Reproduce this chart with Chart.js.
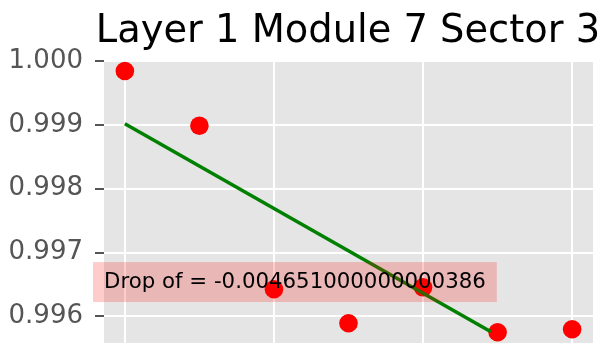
<!DOCTYPE html>
<html>
<head>
<meta charset="utf-8">
<script src="https://cdn.jsdelivr.net/npm/chart.js@4.4.1/dist/chart.umd.min.js"></script>
<style>
  html, body { margin: 0; padding: 0; background: #ffffff; }
  #wrap { width: 599px; height: 346px; }
</style>
</head>
<body>
<div id="wrap"><canvas id="c" width="599" height="346"></canvas></div>
<script>
// ---- data ----
const titleText = "Layer 1 Module 7 Sector 3";
const pointX = [0, 1, 2, 3, 4, 5, 6];
const pointY = [0.999843, 0.998987, 0.996426, 0.995894, 0.996457, 0.995753, 0.995800];
const fitX = [0, 4.91];
const fitY = [0.999019, 0.995762];
const yTicks = [0.996, 0.997, 0.998, 0.999, 1.000];
const annotationText = "Drop of = -0.004651000000000386";
const annotationX = [-0.28];
const annotationY = [0.99645];

const FONT = "'DejaVu Sans', sans-serif";

const bgPlugin = {
  id: 'bg',
  beforeDraw(chart) {
    const { ctx, chartArea: a } = chart;
    ctx.save();
    ctx.fillStyle = '#E5E5E5';
    ctx.fillRect(a.left, a.top, a.right - a.left, a.bottom - a.top);
    ctx.restore();
  }
};

const titlePlugin = {
  id: 'mtitle',
  afterDraw(chart) {
    const { ctx, chartArea: a } = chart;
    ctx.save();
    ctx.font = "38.4px " + FONT;
    ctx.fillStyle = '#000000';
    ctx.textAlign = 'center';
    ctx.textBaseline = 'alphabetic';
    ctx.fillText(titleText, (a.left + a.right) / 2 - 0.5, a.top - 18);
    ctx.restore();
  }
};

const annPlugin = {
  id: 'ann',
  afterDraw(chart) {
    const { ctx } = chart;
    const xs = chart.scales.x, ys = chart.scales.y;
    const px = xs.getPixelForValue(annotationX[0]);
    const py = ys.getPixelForValue(annotationY[0]);
    ctx.save();
    ctx.font = "21.3px " + FONT;
    const w = ctx.measureText(annotationText).width;
    ctx.fillStyle = 'rgba(255,0,0,0.2)';
    ctx.fillRect(px - 11, py - 25.7, w + 22, 40);
    ctx.fillStyle = '#000000';
    ctx.textBaseline = 'alphabetic';
    ctx.textAlign = 'left';
    ctx.fillText(annotationText, px, py);
    ctx.restore();
  }
};

new Chart(document.getElementById('c'), {
  type: 'scatter',
  data: {
    datasets: [
      {
        type: 'line',
        data: fitX.map((x, i) => ({ x: x, y: fitY[i] })),
        borderColor: '#008000',
        borderWidth: 3.5,
        pointRadius: 0,
        fill: false,
        order: 0
      },
      {
        type: 'scatter',
        data: pointX.map((x, i) => ({ x: x, y: pointY[i] })),
        backgroundColor: '#FF0000',
        borderWidth: 0,
        pointRadius: 9.3,
        pointHoverRadius: 9.3,
        order: 1
      }
    ]
  },
  options: {
    responsive: false,
    animation: false,
    events: [],
    layout: { autoPadding: false, padding: { left: 0, right: 6, top: 60, bottom: 3 } },
    plugins: {
      legend: { display: false },
      tooltip: { enabled: false },
      title: { display: false }
    },
    scales: {
      x: {
        type: 'linear',
        min: -0.28,
        max: 6.28,
        border: { display: false },
        afterFit(scale) { scale.height = 0; scale.paddingLeft = 0; scale.paddingRight = 0; },
        grid: { color: '#FFFFFF', lineWidth: 2, drawTicks: false },
        ticks: { display: false, stepSize: 2, includeBounds: false }
      },
      y: {
        type: 'linear',
        min: 0.995585,
        max: 1.0000157,
        border: { display: false },
        afterFit(scale) { scale.width = 104; scale.paddingTop = 0; scale.paddingBottom = 0; },
        afterBuildTicks(scale) { scale.ticks = yTicks.map(v => ({ value: v })); },
        grid: { color: '#FFFFFF', lineWidth: 2, tickColor: '#555555', tickLength: 9, drawTicks: true },
        ticks: {
          color: '#555555',
          padding: 12,
          font: { family: FONT, size: 26 },
          callback: (v) => Number(v).toFixed(3)
        }
      }
    }
  },
  plugins: [bgPlugin, titlePlugin, annPlugin]
});
</script>
</body>
</html>
